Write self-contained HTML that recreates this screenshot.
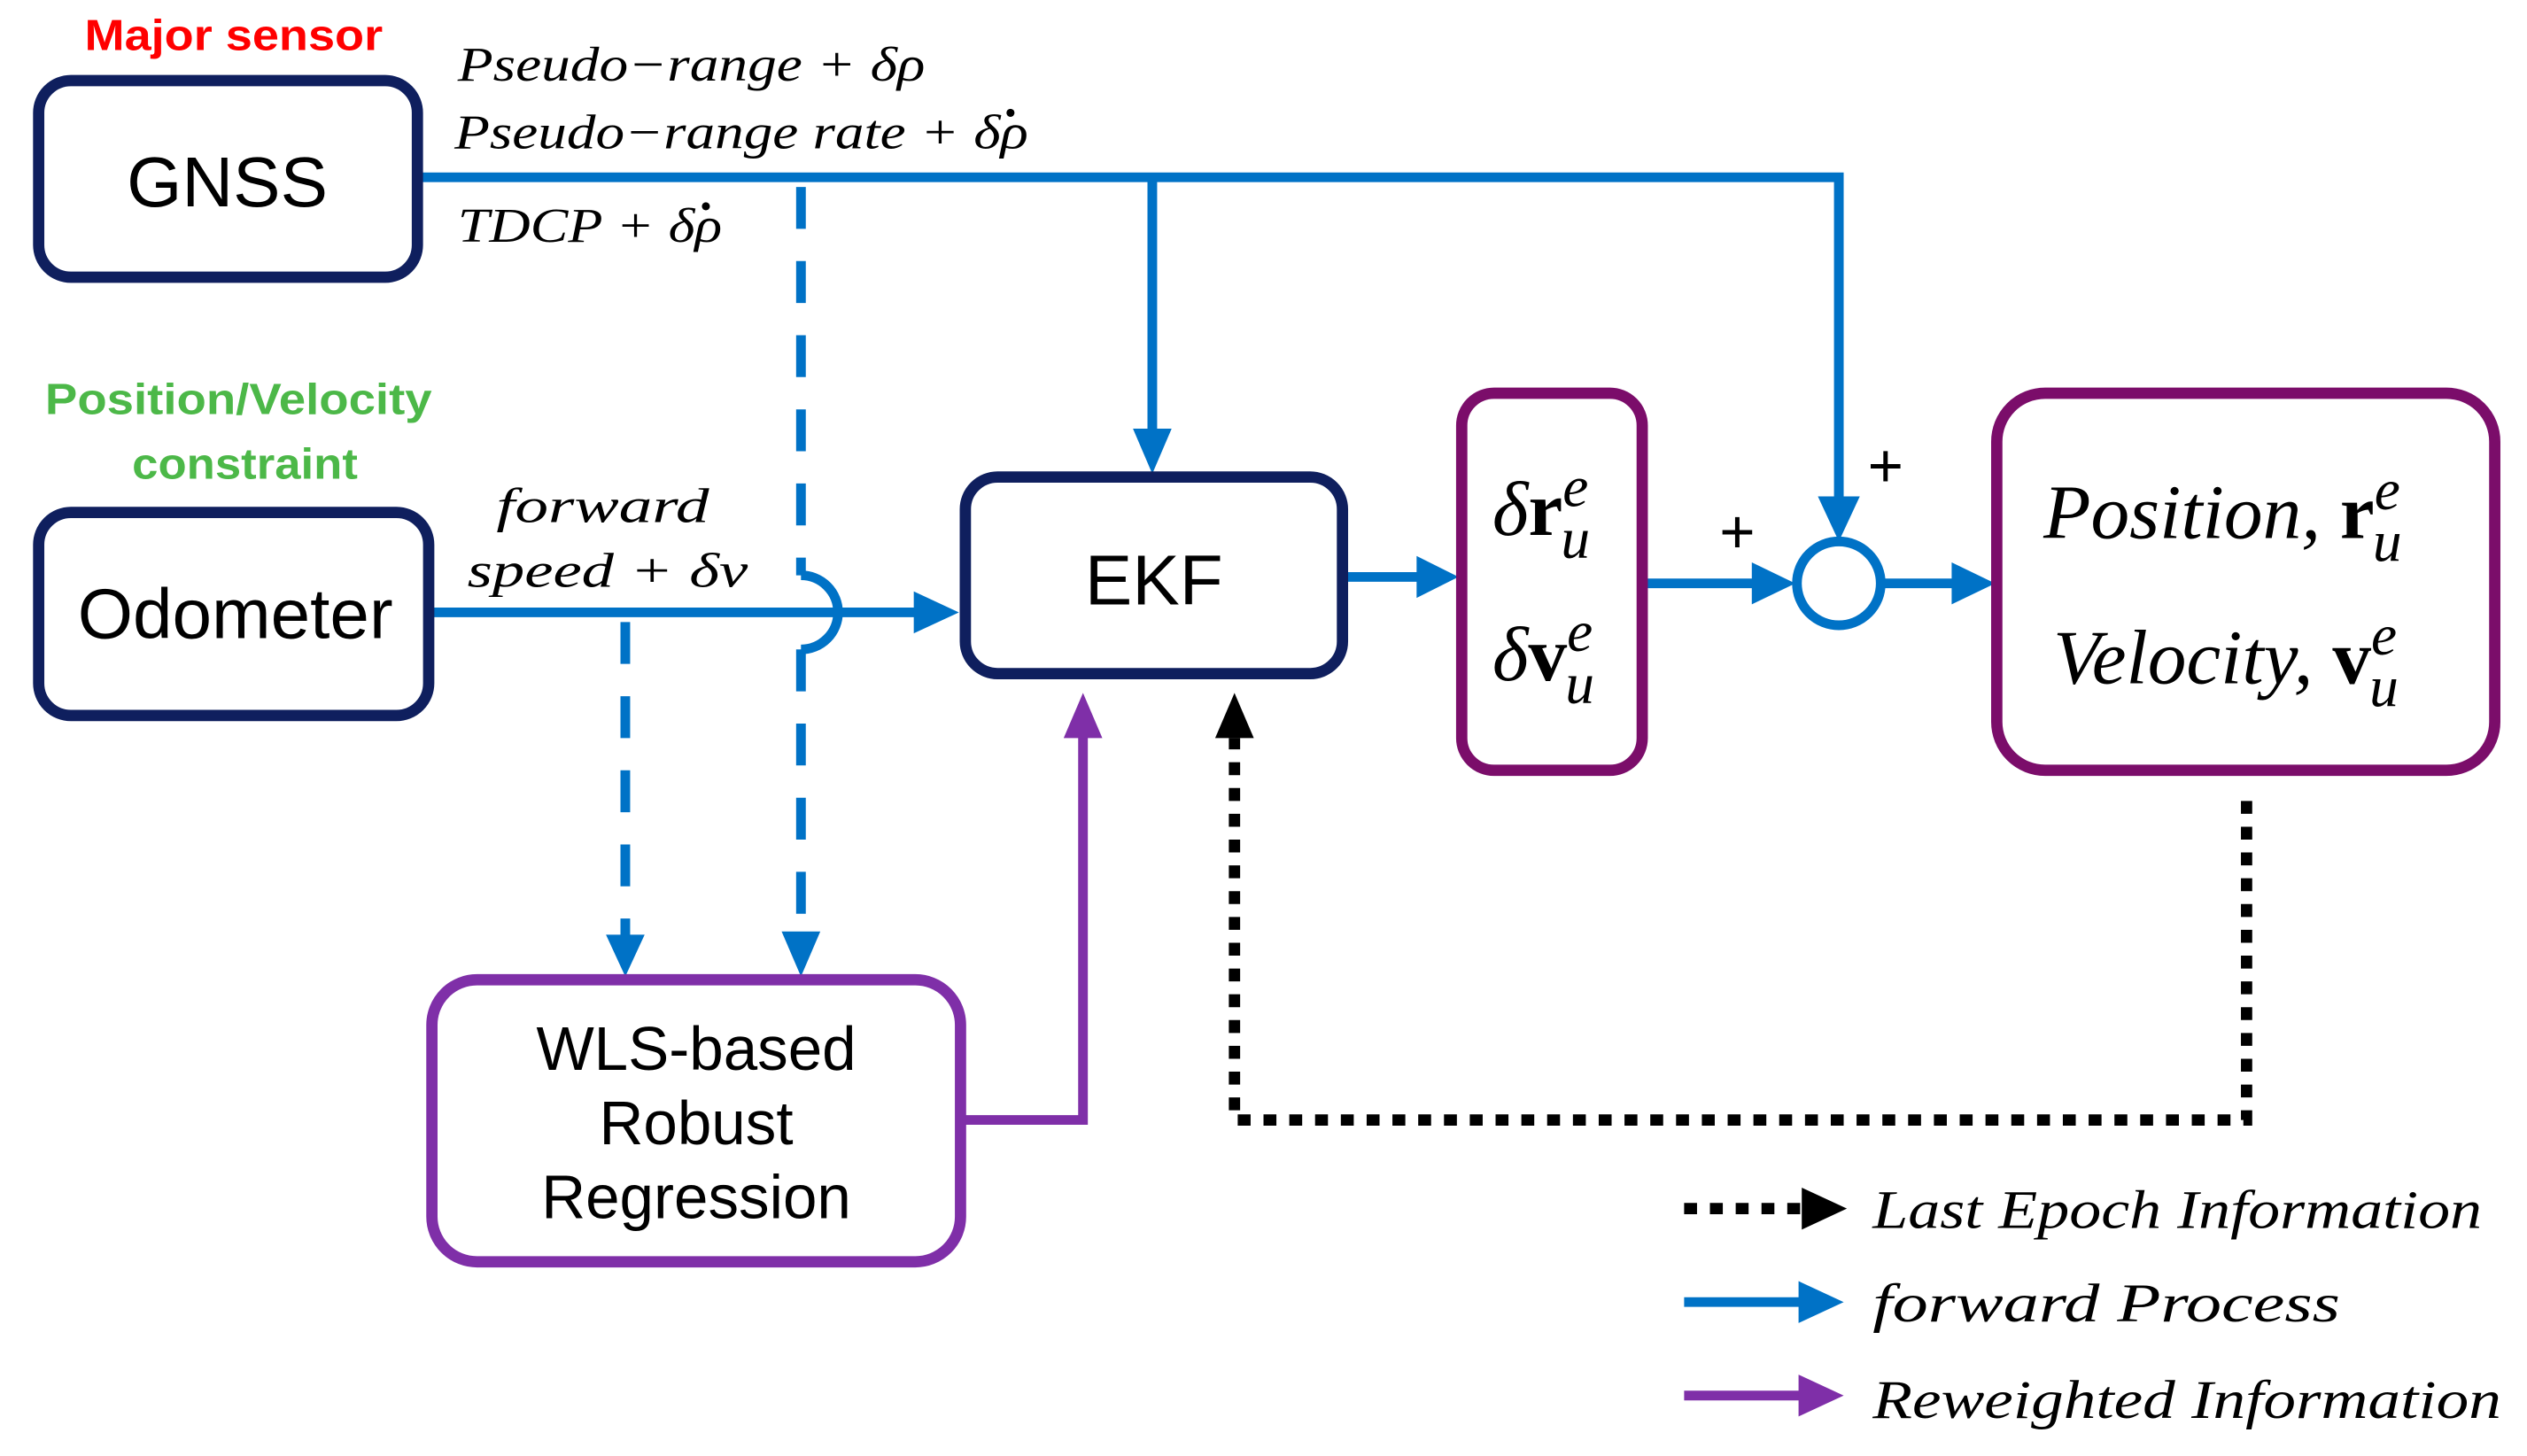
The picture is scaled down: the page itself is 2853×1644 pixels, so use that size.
<!DOCTYPE html>
<html><head><meta charset="utf-8"><style>html,body{margin:0;padding:0;background:#fff}svg{display:block}</style></head>
<body>
<svg width="2853" height="1644" viewBox="0 0 1568 903.5" xmlns="http://www.w3.org/2000/svg">
<g font-family="'Liberation Serif',serif" font-style="italic" font-size="30" fill="#000">
<text x="284" y="50" textLength="290" lengthAdjust="spacingAndGlyphs">Pseudo−range + δρ</text>
<text x="282" y="92" textLength="356" lengthAdjust="spacingAndGlyphs">Pseudo−range rate + δρ</text>
<text x="284" y="150" textLength="164" lengthAdjust="spacingAndGlyphs">TDCP + δρ</text>
<text x="308" y="324" textLength="132" lengthAdjust="spacingAndGlyphs">forward</text>
<text x="290" y="364" textLength="174" lengthAdjust="spacingAndGlyphs">speed  + δv</text>
</g>
<circle cx="627" cy="70" r="2.5" fill="#000"/>
<circle cx="438" cy="128" r="2.5" fill="#000"/>
<g font-family="'Liberation Sans',sans-serif" font-weight="bold" font-size="27" text-anchor="middle">
<text x="145" y="31" fill="#ff0000" textLength="185" lengthAdjust="spacingAndGlyphs">Major sensor</text>
<text x="148" y="257" fill="#4cb848" textLength="240" lengthAdjust="spacingAndGlyphs">Position/Velocity</text>
<text x="152" y="297" fill="#4cb848" textLength="140" lengthAdjust="spacingAndGlyphs">constraint</text>
</g>
<g stroke="#0072c6" stroke-width="6" fill="none">
<path d="M260,110 H1141 V312"/>
<path d="M715,110 V268"/>
<path d="M268,380 H570"/>
<path d="M836,358 H882"/>
<path d="M1022,362 H1090"/>
<path d="M1168,362 H1214"/>
<path d="M497,116 V357" stroke-dasharray="26,20"/>
<path d="M497,357 A23,23 0 0 1 497,403"/>
<path d="M497,403 V580" stroke-dasharray="26,20"/>
<path d="M388,386 V582" stroke-dasharray="26,20"/>
<circle cx="1141" cy="362" r="26"/>
<path d="M1045,808 H1118"/>
</g>
<g fill="#0072c6">
<path d="M703,266 L727,266 L715,294 z"/>
<path d="M567,367 L567,393 L595,380 z"/>
<path d="M879,345 L879,371 L905,358 z"/>
<path d="M1087,349 L1087,375 L1114,362 z"/>
<path d="M1128,308 L1154,308 L1141,336 z"/>
<path d="M1211,349 L1211,375 L1238,362 z"/>
<path d="M485,578 L509,578 L497,606 z"/>
<path d="M376,580 L400,580 L388,606 z"/>
<path d="M1116,795 L1116,821 L1144,808 z"/>
</g>
<g stroke="#7f2fa8" stroke-width="6" fill="none">
<path d="M598,695 H672 V456"/>
<path d="M1045,866 H1118"/>
</g>
<g fill="#7f2fa8">
<path d="M660,458 L684,458 L672,430 z"/>
<path d="M1116,853 L1116,879 L1144,866 z"/>
</g>
<g stroke="#000" stroke-width="7" fill="none" stroke-dasharray="8,8">
<path d="M1394,497 V695 H766 V458"/>
<path d="M1045,750 H1120"/>
</g>
<g fill="#000">
<path d="M754,458 L778,458 L766,430 z"/>
<path d="M1118,737 L1118,763 L1146,750 z"/>
</g>
<g fill="none" stroke-width="7">
<rect x="24" y="50" width="235" height="122" rx="20" stroke="#0f1f5e"/>
<rect x="24" y="318" width="242" height="126" rx="20" stroke="#0f1f5e"/>
<rect x="599" y="296" width="234" height="122" rx="20" stroke="#0f1f5e"/>
<rect x="907" y="244" width="112" height="234" rx="20" stroke="#7b0d6a"/>
<rect x="1239" y="244" width="309" height="234" rx="30" stroke="#7b0d6a"/>
<rect x="268" y="608" width="328" height="175" rx="28" stroke="#7f2fa8"/>
</g>
<g font-family="'Liberation Sans',sans-serif" font-size="44" text-anchor="middle" fill="#000">
<text x="141" y="128">GNSS</text>
<text x="146" y="396">Odometer</text>
<text x="716" y="375">EKF</text>
<text x="432" y="664" font-size="38">WLS-based</text>
<text x="432" y="710" font-size="38">Robust</text>
<text x="432" y="756" font-size="38">Regression</text>
<text x="1078" y="343" font-size="38">+</text>
<text x="1170" y="302" font-size="38">+</text>
</g>
<g font-family="'Liberation Serif',serif" fill="#000">
<text x="926" y="332" font-size="48"><tspan font-style="italic">δ</tspan><tspan font-weight="bold">r</tspan><tspan font-style="italic" font-size="36" dy="-18">e</tspan><tspan font-style="italic" font-size="36" dx="-17" dy="32">u</tspan></text>
<text x="926" y="422" font-size="48"><tspan font-style="italic">δ</tspan><tspan font-weight="bold">v</tspan><tspan font-style="italic" font-size="36" dy="-18">e</tspan><tspan font-style="italic" font-size="36" dx="-17" dy="32">u</tspan></text>
<text x="1268" y="334" font-size="48"><tspan font-style="italic">Position, </tspan><tspan font-weight="bold">r</tspan><tspan font-style="italic" font-size="36" dy="-18">e</tspan><tspan font-style="italic" font-size="36" dx="-17" dy="32">u</tspan></text>
<text x="1274" y="424" font-size="48"><tspan font-style="italic">Velocity, </tspan><tspan font-weight="bold">v</tspan><tspan font-style="italic" font-size="36" dy="-18">e</tspan><tspan font-style="italic" font-size="36" dx="-17" dy="32">u</tspan></text>
</g>
<g font-family="'Liberation Serif',serif" font-style="italic" font-size="34" fill="#000">
<text x="1162" y="762" textLength="378" lengthAdjust="spacingAndGlyphs">Last Epoch Information</text>
<text x="1162" y="820" textLength="290" lengthAdjust="spacingAndGlyphs">forward Process</text>
<text x="1162" y="880" textLength="390" lengthAdjust="spacingAndGlyphs">Reweighted Information</text>
</g>
</svg>
</body></html>
